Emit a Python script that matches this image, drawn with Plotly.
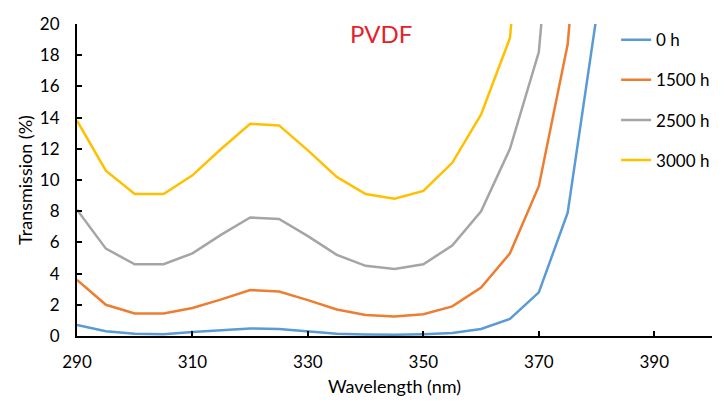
import plotly.graph_objects as go

wavelength = [290, 295, 300, 305, 310, 315, 320, 325, 330, 335, 340, 345, 350, 355, 360, 365, 370, 375, 380]
t_0h = [0.7, 0.3, 0.15, 0.12, 0.25, 0.35, 0.48, 0.45, 0.3, 0.15, 0.1, 0.08, 0.12, 0.2, 0.45, 1.1, 2.8, 7.9, 20.5]
t_1500h = [3.6, 2.0, 1.45, 1.45, 1.8, 2.35, 2.95, 2.85, 2.3, 1.7, 1.35, 1.25, 1.4, 1.9, 3.1, 5.3, 9.6, 18.7, 40.0]
t_2500h = [8.1, 5.6, 4.6, 4.6, 5.3, 6.5, 7.6, 7.5, 6.4, 5.2, 4.5, 4.3, 4.6, 5.8, 8.0, 12.0, 18.2, 40.0, 60.0]
t_3000h = [13.8, 10.6, 9.1, 9.1, 10.3, 12.0, 13.6, 13.5, 11.9, 10.2, 9.1, 8.8, 9.3, 11.1, 14.2, 19.1, 40.0, 60.0, 80.0]

series = [("0 h", t_0h, "#5B9BD5"), ("1500 h", t_1500h, "#ED7D31"),
          ("2500 h", t_2500h, "#A5A5A5"), ("3000 h", t_3000h, "#FFC000")]

x_ticks = [290, 310, 330, 350, 370, 390]

fig = go.Figure()
for name, vals, col in series:
    fig.add_trace(go.Scatter(x=wavelength, y=vals, name=name, mode="lines",
                             legendgroup=name,
                             line=dict(color=col, width=2.5)))

font_family = "Lato, Liberation Sans, sans-serif"
fig.update_layout(
    width=727, height=403,
    margin=dict(l=69, r=23, t=16, b=75, autoexpand=False),
    plot_bgcolor="white", paper_bgcolor="white",
    font=dict(family=font_family, color="black", size=17),
    showlegend=True,
    legend=dict(x=0.849, y=1.006, xanchor="left", yanchor="top",
                bgcolor="rgba(0,0,0,0)", font=dict(size=17), tracegroupgap=15),
    annotations=[dict(text="PVDF", x=0.479, y=0.971, xref="paper", yref="paper",
                      xanchor="center", yanchor="middle",
                      showarrow=False, font=dict(size=24, color="#E8202A", family=font_family))],
)
fig.update_xaxes(range=[290, 400], tickvals=x_ticks, showline=True, linecolor="black", linewidth=2,
                 ticks="inside", ticklen=5, tickwidth=2, tickcolor="black", showgrid=False, zeroline=False,
                 title=dict(text="Wavelength (nm)", font=dict(size=18), standoff=9),
                 tickfont=dict(size=17), ticklabelstandoff=10, automargin=False)
fig.update_yaxes(range=[0, 20], dtick=2, showline=True, linecolor="black", linewidth=2,
                 ticks="inside", ticklen=5, tickwidth=2, tickcolor="black", showgrid=False, zeroline=False,
                 title=dict(text="Transmission (%)", font=dict(size=18), standoff=3),
                 tickfont=dict(size=17), ticklabelstandoff=12, automargin=False)
fig.write_html("out.html")
